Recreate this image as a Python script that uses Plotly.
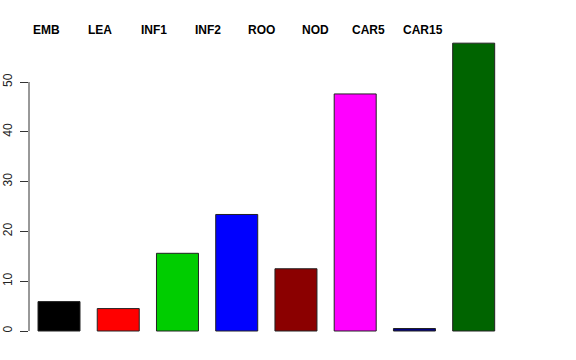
import plotly.graph_objects as go

categories = ["EMB", "LEA", "INF1", "INF2", "ROO", "NOD", "CAR5", "CAR15"]
values = [5.9, 4.5, 15.6, 23.4, 12.5, 47.6, 0.5, 57.8]
colors = ["#000000", "#FF0000", "#00CD00", "#0000FF", "#8B0000", "#FF00FF", "#000080", "#006400"]
y_ticks = [0, 10, 20, 30, 40, 50]

W, H = 576, 360
ml, mr, mt, mb = 29, 73, 31, 18
pw = W - ml - mr
ph = H - mt - mb
px_per_unit_y = 4.98
ymin = -(H - mb - 331) / px_per_unit_y
ymax = (331 - mt) / px_per_unit_y
px_per_cat = 59.24
x0 = -30 / px_per_cat
xr = [x0, x0 + pw / px_per_cat]

fig = go.Figure()
fig.add_trace(go.Bar(
    x=list(range(len(categories))), y=values,
    marker=dict(color=colors, line=dict(color="#222222", width=1)),
    width=0.709, showlegend=False, hoverinfo="skip",
))

# header labels
for i, c in enumerate(categories):
    xp = 46.7 + 53.7 * i
    fig.add_annotation(
        x=(xp - ml) / pw, xref="paper", y=1 + 1 / ph, yref="paper",
        text="<b>%s</b>" % c, showarrow=False, xanchor="center", yanchor="middle",
        font=dict(family="Liberation Sans, Arial", size=12, color="#000000"),
    )

# R-style axis line spanning the tick range only
fig.add_shape(type="line", xref="paper", yref="y", x0=0, x1=0,
              y0=y_ticks[0], y1=y_ticks[-1], line=dict(color="#333333", width=1))

fig.update_layout(
    width=W, height=H, margin=dict(l=ml, r=mr, t=mt, b=mb, autoexpand=False),
    paper_bgcolor="white", plot_bgcolor="white",
    font=dict(family="Liberation Sans, Arial", size=12, color="#000000"),
    xaxis=dict(range=xr, showticklabels=False, showgrid=False, zeroline=False,
               showline=False, ticks="", automargin=False),
    yaxis=dict(range=[ymin, ymax], tickvals=y_ticks, ticktext=[str(v) for v in y_ticks],
               tickangle=-90, ticks="outside", ticklen=8, tickcolor="#333333",
               ticklabelstandoff=3,
               showgrid=False, zeroline=False, showline=False, automargin=False,
               tickfont=dict(size=12, color="#222222")),
)

fig.write_html("out.html")
